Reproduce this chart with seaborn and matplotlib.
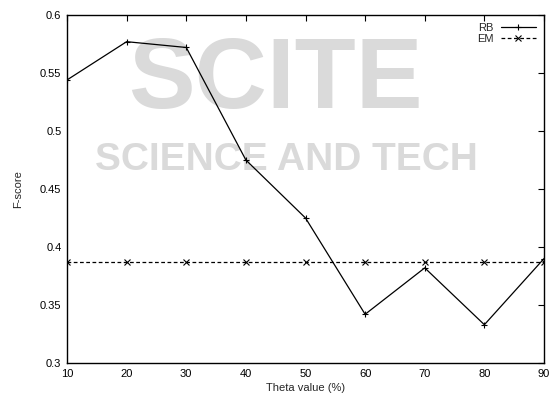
import matplotlib
matplotlib.use("Agg")
import matplotlib.pyplot as plt
import seaborn as sns
import pandas as pd

theta = [10, 20, 30, 40, 50, 60, 70, 80, 90]
rb_scores = [0.544, 0.577, 0.572, 0.475, 0.425, 0.342, 0.382, 0.333, 0.390]
em_scores = [0.387, 0.387, 0.387, 0.387, 0.387, 0.387, 0.387, 0.387, 0.387]
x_ticks = [10, 20, 30, 40, 50, 60, 70, 80, 90]
y_ticks = [0.3, 0.35, 0.4, 0.45, 0.5, 0.55, 0.6]

df = pd.DataFrame({"theta": theta + theta,
                   "score": rb_scores + em_scores,
                   "method": ["RB"] * len(theta) + ["EM"] * len(theta)})

sns.set_style("white")
plt.rcParams['font.family'] = ['Liberation Sans', 'DejaVu Sans']

fig = plt.figure(figsize=(5.51, 4.0), dpi=100)
ax = fig.add_axes([67 / 551, 1 - 363 / 400, 477 / 551, 348 / 400])
ax.set_zorder(2)
ax.patch.set_alpha(0)

# faint watermark behind the plot
fig.text(0.50, 0.795, "SCITE", fontsize=72, fontweight='bold', color='#dadada',
         ha='center', va='center', zorder=0)
fig.text(0.52, 0.60, "SCIENCE AND TECH", fontsize=28, fontweight='bold', color='#dadada',
         ha='center', va='center', zorder=0)

sns.lineplot(data=df, x="theta", y="score", hue="method", style="method",
             palette={"RB": "black", "EM": "black"},
             dashes={"RB": "", "EM": (3, 2)},
             markers={"RB": "+", "EM": "x"},
             markersize=4, markeredgewidth=0.8, markeredgecolor='black',
             linewidth=0.9, ax=ax)

ax.set_xlim(10, 90)
ax.set_ylim(0.3, 0.6)
ax.set_xticks(x_ticks)
ax.set_yticks(y_ticks)
ax.set_yticklabels(["0.3", "0.35", "0.4", "0.45", "0.5", "0.55", "0.6"])
ax.tick_params(direction='in', length=4, width=0.8, top=True, right=True,
               labelsize=8, pad=4, colors='black')
for s in ax.spines.values():
    s.set_color('black')
    s.set_linewidth(1.0)

ax.set_xlabel("Theta value (%)", fontsize=8, labelpad=3)
ax.set_ylabel("F-score", fontsize=8, labelpad=12)

leg = ax.legend(loc='upper right', frameon=False, markerfirst=False, fontsize=8,
                handlelength=3.2, borderaxespad=0.3, labelspacing=0.1, handletextpad=0.6)
for h in leg.legend_handles:
    h.set_markeredgecolor('black')

fig.savefig("out.png", dpi=100)
